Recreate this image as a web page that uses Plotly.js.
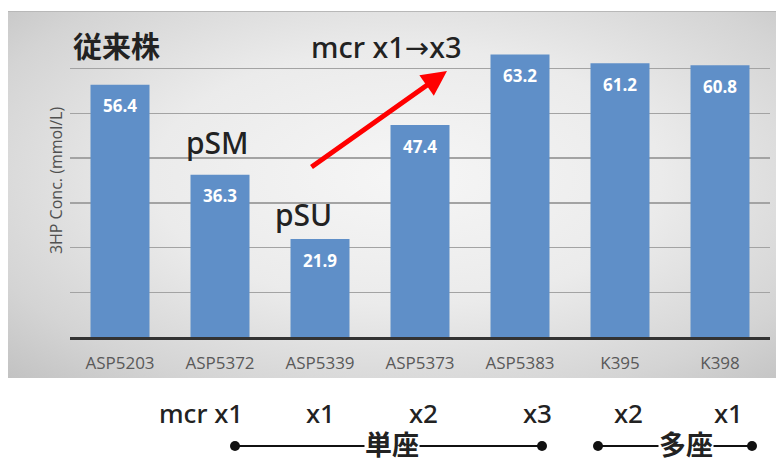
<!DOCTYPE html>
<html>
<head>
<meta charset="utf-8">
<script src="https://cdn.plot.ly/plotly-3.0.1.min.js"></script>
<style>
  html, body { margin: 0; padding: 0; background: #ffffff; }
  #wrap { position: relative; width: 783px; height: 465px; }
  #panel {
    position: absolute; left: 8px; top: 11px; width: 768px; height: 366px;
    background: radial-gradient(ellipse at 52% 45%, #f6f6f6 0%, #ebebeb 45%, #d4d4d4 80%, #c2c2c2 100%);
    border-top: 1px solid #b8b8b8;
  }
  #chart { position: absolute; left: 0; top: 0; width: 783px; height: 465px; }
</style>
</head>
<body>
<div id="wrap">
  <div id="panel"></div>
  <div id="chart"></div>
</div>
<script>
// ---- data ----
const strains = ["ASP5203", "ASP5372", "ASP5339", "ASP5373", "ASP5383", "K395", "K398"];
const conc = [56.4, 36.3, 21.9, 47.4, 63.2, 61.2, 60.8];
const yTitle = "3HP Conc. (mmol/L)";
const copyLabels = ["mcr x1", "x1", "x2", "x3", "x2", "x1"];

// ---- geometry helpers (pixel -> paper) ----
const W = 783, H = 465, M = { l: 70, r: 13, t: 24, b: 128 };
const PW = W - M.l - M.r, PH = H - M.t - M.b;
const px = x => (x - M.l) / PW;
const py = y => (H - M.b - y) / PH;

const dark = "#222222";
const annotations = [];
const note = (x, y, text, font, extra) => annotations.push(Object.assign({
  x: px(x), y: py(y), xref: "paper", yref: "paper", text: text, showarrow: false,
  xanchor: "center", yanchor: "middle", font: font
}, extra || {}));

// value labels inside bars
strains.forEach((s, i) => {
  annotations.push({
    x: s, y: conc[i], xref: "x", yref: "y",
    text: conc[i].toFixed(1), showarrow: false,
    xanchor: "center", yanchor: "middle", yshift: -21,
    font: { family: "Open Sans, Noto Sans, sans-serif", size: 17, color: "#ffffff", weight: "bold" }
  });
});

// title-like texts inside the panel
note(116, 45, "従来株", { family: "Noto Sans CJK JP, sans-serif", size: 29, color: dark, weight: "bold" });
note(386, 47, "mcr x1→x3", { family: "Noto Sans, DejaVu Sans, sans-serif", size: 29, color: dark, weight: 500 });
note(217, 142, "pSM", { family: "Noto Sans, sans-serif", size: 30, color: dark, weight: 500 });
note(303, 214, "pSU", { family: "Noto Sans, sans-serif", size: 30, color: dark, weight: 500 });

// red arrow
annotations.push({ x: px(447), y: py(71), xref: "paper", yref: "paper", text: "",
  showarrow: true, ax: 310 - 447, ay: 168 - 71, axref: "pixel", ayref: "pixel",
  arrowcolor: "#ff0000", arrowwidth: 5, arrowhead: 2, arrowsize: 1 });

// copy-number labels below panel
const copyX = [245, 320, 424, 537, 628, 728];
copyLabels.forEach((t, i) => {
  note(copyX[i], 413, t, { family: "Noto Sans, sans-serif", size: 26, color: dark, weight: 500 },
    i === 0 ? { xanchor: "right" } : null);
});
// 単座 / 多座
note(392, 443, "単座", { family: "Noto Sans CJK JP, sans-serif", size: 27, color: dark, weight: "bold" },
  { bgcolor: "#ffffff", borderpad: 0 });
note(686, 443, "多座", { family: "Noto Sans CJK JP, sans-serif", size: 27, color: dark, weight: "bold" },
  { bgcolor: "#ffffff", borderpad: 0 });

// lines and dots
const shapes = [];
const seg = (x0, x1, y) => shapes.push({ type: "line", xref: "paper", yref: "paper",
  x0: px(x0), x1: px(x1), y0: py(y), y1: py(y), line: { color: "#111111", width: 2 }, layer: "below" });
const dot = (x, y) => shapes.push({ type: "circle", xref: "paper", yref: "paper",
  xsizemode: "pixel", ysizemode: "pixel", xanchor: px(x), yanchor: py(y),
  x0: -5, x1: 5, y0: -5, y1: 5, fillcolor: "#111111", line: { width: 0 } });
seg(235, 542, 446); dot(235, 446); dot(542, 446);
seg(598, 752, 446); dot(598, 446); dot(752, 446);

const trace = {
  type: "bar", x: strains, y: conc,
  marker: { color: "#5f8fc8" },
  hoverinfo: "x+y"
};

const layout = {
  width: W, height: H,
  margin: M,
  paper_bgcolor: "rgba(0,0,0,0)",
  plot_bgcolor: "rgba(0,0,0,0)",
  bargap: 0.41,
  showlegend: false,
  xaxis: {
    type: "category",
    showline: true, linecolor: "#333333", linewidth: 2.5,
    showgrid: false, ticks: "",
    ticklabelstandoff: 9,
    tickfont: { family: "Open Sans, Noto Sans, sans-serif", size: 17, color: "#595959" }
  },
  yaxis: {
    range: [0, 70], dtick: 10,
    showticklabels: false, ticks: "",
    showgrid: true, gridcolor: "#a3a3a3", gridwidth: 1.3,
    zeroline: false, showline: false,
    title: { text: yTitle, standoff: 2, font: { family: "Open Sans, Noto Sans, sans-serif", size: 16, color: "#505050" } }
  },
  annotations: annotations,
  shapes: shapes
};

Plotly.newPlot("chart", [trace], layout, { displayModeBar: false, staticPlot: true });
</script>
</body>
</html>
